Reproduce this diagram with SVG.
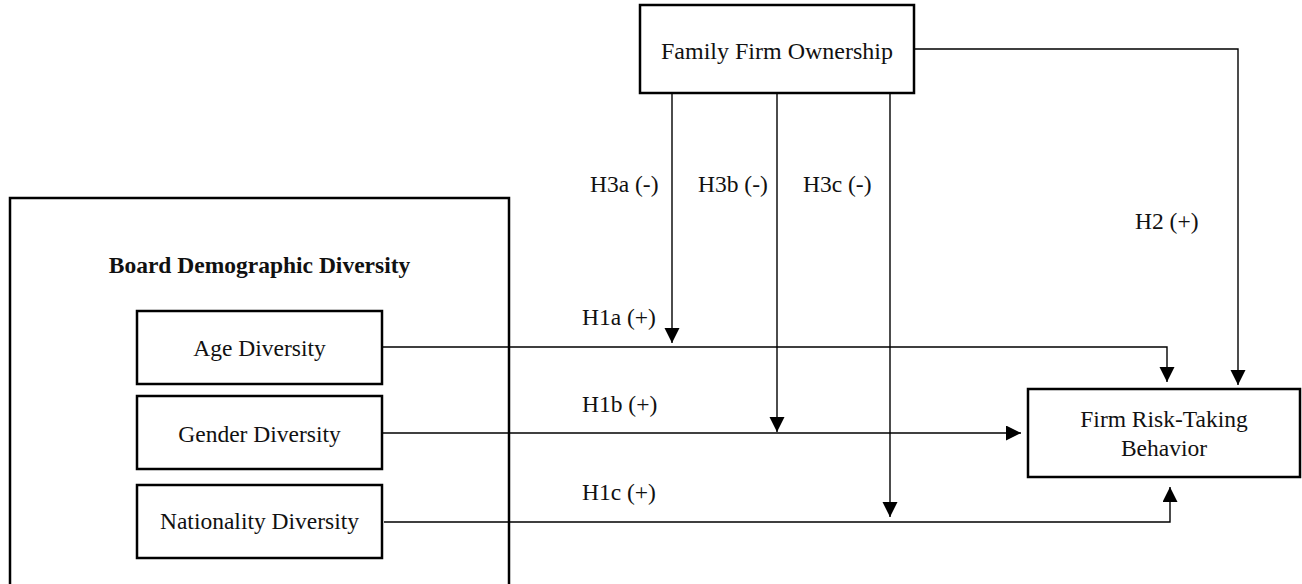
<svg xmlns="http://www.w3.org/2000/svg" width="1302" height="584" viewBox="0 0 1302 584">
<defs>
<style>
.box{fill:#fff;stroke:#000;stroke-width:2.5}
.c{text-anchor:middle}
.b{font-weight:bold}
.ln{fill:none;stroke:#000;stroke-width:1.4}
</style>
<marker id="ah" markerUnits="userSpaceOnUse" markerWidth="16" markerHeight="16" refX="15" refY="7.5" orient="auto" viewBox="0 0 16 16">
<path d="M0,0 L15,7.5 L0,15 z" fill="#000"/>
</marker>
</defs>
<rect width="1302" height="584" fill="#fff"/>
<g font-family="Liberation Serif, serif" font-size="23.5" fill="#111">
<g id="board-diversity">
<rect class="box" x="10" y="198" width="499" height="400"/>
<text class="c b" x="259.5" y="273">Board Demographic Diversity</text>
</g>
<g id="age-diversity">
<rect class="box" x="137" y="311" width="245" height="73"/>
<text class="c" x="259.5" y="356">Age Diversity</text>
</g>
<g id="gender-diversity">
<rect class="box" x="137" y="396" width="245" height="73"/>
<text class="c" x="259.5" y="442">Gender Diversity</text>
</g>
<g id="nationality-diversity">
<rect class="box" x="137" y="485" width="245" height="73"/>
<text class="c" x="259.5" y="529">Nationality Diversity</text>
</g>
<g id="family-firm-ownership">
<rect class="box" x="640" y="5" width="274" height="88"/>
<text class="c" x="777" y="59" font-size="24">Family Firm Ownership</text>
</g>
<g id="firm-risk-taking">
<rect class="box" x="1028" y="389" width="272" height="88"/>
<text class="c" x="1164" y="427">Firm Risk-Taking</text>
<text class="c" x="1164" y="456">Behavior</text>
</g>
<g id="connectors">
<path class="ln" d="M383,347 H1167 V382" marker-end="url(#ah)"/>
<path class="ln" d="M383,433 H1021" marker-end="url(#ah)"/>
<path class="ln" d="M384,522 H1170 V487" marker-end="url(#ah)"/>
<path class="ln" d="M914,49 H1238 V385" marker-end="url(#ah)"/>
<path class="ln" d="M672,93 V343" marker-end="url(#ah)"/>
<path class="ln" d="M777,93 V432" marker-end="url(#ah)"/>
<path class="ln" d="M890,93 V517" marker-end="url(#ah)"/>
</g>
<g id="labels">
<text x="590" y="192">H3a (-)</text>
<text x="698" y="192">H3b (-)</text>
<text x="803" y="192">H3c (-)</text>
<text x="1135" y="229">H2 (+)</text>
<text x="582" y="325">H1a (+)</text>
<text x="582" y="412">H1b (+)</text>
<text x="582" y="500">H1c (+)</text>
</g>
</g>
</svg>
